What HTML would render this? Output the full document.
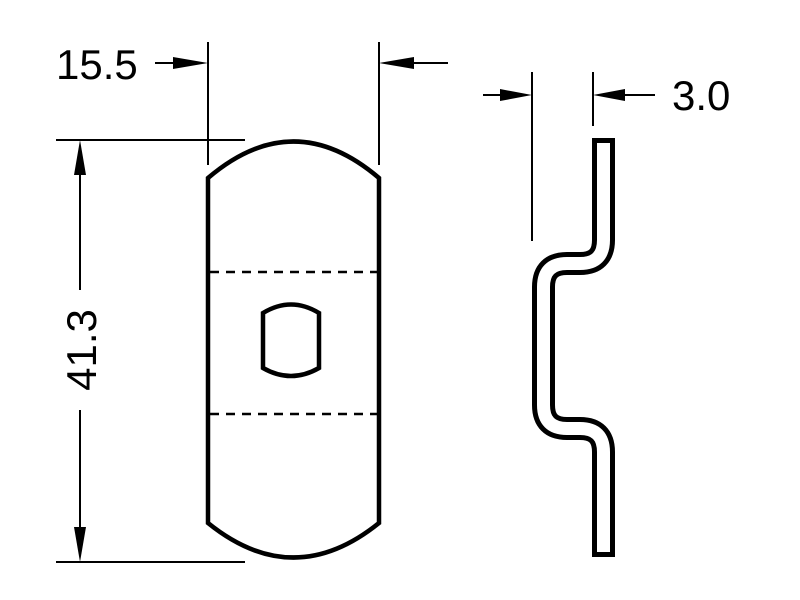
<!DOCTYPE html>
<html><head><style>body{margin:0;background:#fff}svg{display:block}</style></head>
<body>
<svg width="800" height="600" viewBox="0 0 800 600" xmlns="http://www.w3.org/2000/svg">
<g fill="none" stroke="#000">
<!-- main body -->
<path d="M208,178 Q293.5,105 379,178 V523 Q293.5,592 208,523 Z" stroke-width="4.5"/>
<line x1="210" y1="272" x2="377" y2="272" stroke-width="2.5" stroke-dasharray="9,7"/>
<line x1="210" y1="414" x2="377" y2="414" stroke-width="2.5" stroke-dasharray="9,7"/>
<path d="M263,313 Q291,296 319,313 V368 Q291,384 263,368 Z" stroke-width="4.5"/>
<!-- side profile -->
<path d="M603.5,149.5 V240 Q603.5,263.5 580,263.5 H567 Q543.5,263.5 543.5,287 V405 Q543.5,428.5 567,428.5 H580 Q603.5,428.5 603.5,452 V545.5" stroke-width="23" stroke-linecap="square"/>
<path d="M603.5,149.5 V240 Q603.5,263.5 580,263.5 H567 Q543.5,263.5 543.5,287 V405 Q543.5,428.5 567,428.5 H580 Q603.5,428.5 603.5,452 V545.5" stroke="#fff" stroke-width="13" stroke-linecap="square"/>
<!-- dimension lines -->
<g stroke-width="2">
<line x1="208" y1="42" x2="208" y2="165"/>
<line x1="379" y1="42" x2="379" y2="165"/>
<line x1="155" y1="63" x2="190" y2="63"/>
<line x1="398" y1="63" x2="448" y2="63"/>
<line x1="56" y1="140" x2="245" y2="140"/>
<line x1="56" y1="562" x2="245" y2="562"/>
<line x1="80" y1="160" x2="80" y2="290"/>
<line x1="80" y1="410" x2="80" y2="542"/>
<line x1="532" y1="72" x2="532" y2="241"/>
<line x1="593" y1="72" x2="593" y2="126"/>
<line x1="483" y1="95" x2="515" y2="95"/>
<line x1="610" y1="95" x2="655" y2="95"/>
</g>
</g>
<g fill="#000">
<polygon points="208,63 173,57 173,69"/>
<polygon points="379,63 414,57 414,69"/>
<polygon points="80,140 74,175 86,175"/>
<polygon points="80,562 74,527 86,527"/>
<polygon points="532,95 500,89 500,101"/>
<polygon points="593,95 625,89 625,101"/>
</g>
<g font-family="Liberation Sans, sans-serif" font-size="42" fill="#000">
<text x="56" y="79">15.5</text>
<text x="672" y="110">3.0</text>
<text transform="translate(96,350) rotate(-90)" text-anchor="middle">41.3</text>
</g>
</svg>
</body></html>
